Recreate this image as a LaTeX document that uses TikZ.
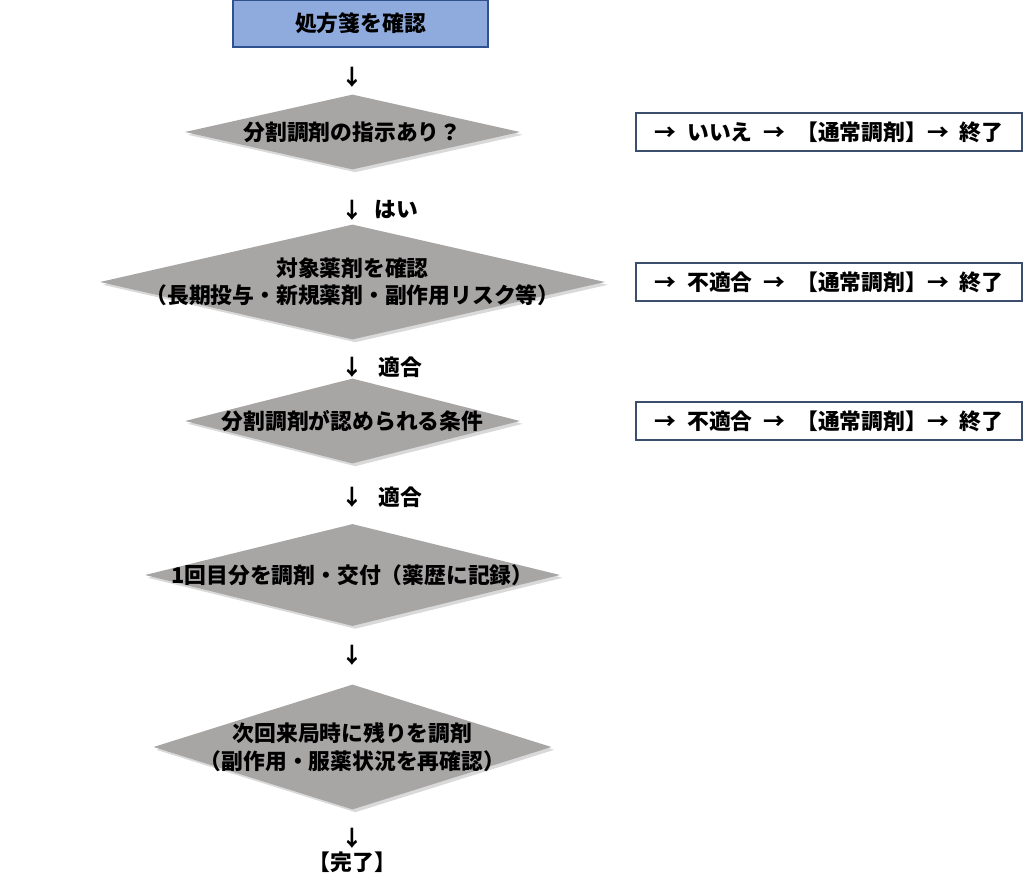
\documentclass[tikz,border=0pt]{standalone}
\usepackage{fontspec}
\setmainfont{Noto Sans CJK JP}
\usetikzlibrary{shapes.geometric,shadows}
\definecolor{boxblue}{RGB}{143,170,220}
\definecolor{boxline}{RGB}{47,82,143}
\definecolor{diagray}{RGB}{168,165,165}
\definecolor{endline}{RGB}{60,78,110}
\newcommand{\jgap}{\hspace{0.5em}}
\begin{document}
\begin{tikzpicture}[node distance=2cm,
		font=\bfseries\fontsize{15.5}{19.5}\selectfont,
		decision/.style={diamond,fill=diagray,inner sep=0pt,
			drop shadow={shadow xshift=2pt,shadow yshift=-2pt,opacity=0.3}},
		stop/.style={rectangle,draw=endline,line width=0.9pt,fill=white,
			minimum width=9.65cm,minimum height=0.95cm,node distance=11.9125cm},
		down/.style={inner sep=0pt}]
	\useasboundingbox (-8.8125,0) rectangle (16.7875,-22.375);

	\node[rectangle,draw=boxline,fill=boxblue,line width=1.1pt,
		minimum width=6.375cm,minimum height=1.175cm] (Start) at (0.2,-0.5875) {処方箋を確認};
	\node[down] (A1) at (0,-1.925) {↓};
	\node[decision,minimum width=8.375cm,minimum height=1.875cm,
		label=center:{分割調剤の指示あり？}] (D1) [below of=A1,node distance=1.375cm] {};
	\node[stop] (N1) [right of=D1] {→\jgap いいえ\jgap →\jgap 【通常調剤】→\jgap 終了};

	\node[down] (A2) [below of=D1,node distance=1.95cm] {↓};
	\node (L2) [right of=A2,node distance=1.1cm] {はい};
	\node[decision,minimum width=12.625cm,minimum height=2.875cm,
		label={[align=center]center:対象薬剤を確認\\（長期投与・新規薬剤・副作用リスク等）}] (D2) [below of=A2,node distance=1.8cm] {};
	\node[stop] (N2) [right of=D2] {→\jgap 不適合\jgap →\jgap 【通常調剤】→\jgap 終了};

	\node[down] (A3) [below of=D2,node distance=2.125cm] {↓};
	\node (L3) [right of=A3,node distance=1.2cm] {適合};
	\node[decision,minimum width=8.375cm,minimum height=2.125cm,
		label=center:{分割調剤が認められる条件}] (D3) [below of=A3,node distance=1.35cm] {};
	\node[stop] (N3) [right of=D3] {→\jgap 不適合\jgap →\jgap 【通常調剤】→\jgap 終了};

	\node[down] (A4) [below of=D3,node distance=1.9cm] {↓};
	\node (L4) [right of=A4,node distance=1.2cm] {適合};
	\node[decision,minimum width=10.375cm,minimum height=2.55cm,
		label=center:{1回目分を調剤・交付（薬歴に記録）}] (D4) [below of=A4,node distance=1.95cm] {};

	\node[down] (A5) [below of=D4,node distance=2cm] {↓};
	\node[decision,minimum width=9.95cm,minimum height=3.125cm,
		label={[align=center]center:次回来局時に残りを調剤\\（副作用・服薬状況を再確認）}] (D5) [below of=A5,node distance=2.3cm] {};

	\node[down] (A6) [below of=D5,node distance=2.275cm] {↓};
	\node (End) [below of=A6,node distance=0.6cm] {【完了】};
\end{tikzpicture}
\end{document}
